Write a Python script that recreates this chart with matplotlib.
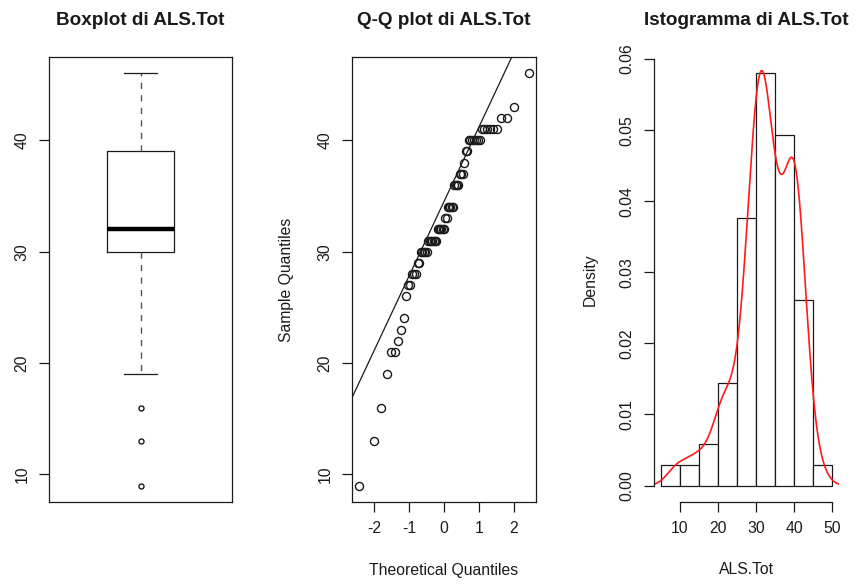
import numpy as np
import matplotlib
matplotlib.use("Agg")
import matplotlib.pyplot as plt
from statistics import NormalDist

# ALS.Tot scores: distinct values and how often each occurs
score_levels = [9, 13, 16, 19, 21, 22, 23, 24, 26, 27, 28, 29, 30, 31, 32, 33,
                34, 36, 37, 38, 39, 40, 41, 42, 43, 46]
score_counts = [1, 1, 1, 1, 2, 1, 1, 1, 1, 2, 3, 2, 5, 7, 6, 2,
                5, 4, 3, 1, 2, 7, 6, 2, 1, 1]
hist_breaks = [5, 10, 15, 20, 25, 30, 35, 40, 45, 50]

box_yticks = [10, 20, 30, 40]
qq_xticks = [-2, -1, 0, 1, 2]
hist_yticks = [0.00, 0.01, 0.02, 0.03, 0.04, 0.05, 0.06]
hist_xticks = [10, 20, 30, 40, 50]

plt.rcParams['font.family'] = ['Liberation Sans', 'DejaVu Sans']
LABEL_SIZE = 11.3
TITLE_SIZE = 13.6
INK = '#1a1a1a'

x = np.sort(np.repeat(score_levels, score_counts)).astype(float)
n = len(x)

W, H = 856, 585
fig = plt.figure(figsize=(W / 100, H / 100), dpi=100)


def panel(left, right, top=57, bottom=502):
    # axes placed by pixel edges, like par(mfrow=c(1,3)) in R
    return fig.add_axes([left / W, (H - bottom) / H, (right - left) / W, (bottom - top) / H])


def r_style(ax):
    ax.tick_params(direction='out', length=7, width=0.9, colors=INK,
                   labelsize=LABEL_SIZE, pad=7)
    ax.tick_params(axis='y', labelrotation=90)
    for lab in ax.get_yticklabels():
        lab.set_va('center')
    for sp in ax.spines.values():
        sp.set_color(INK)
        sp.set_linewidth(0.9)


def title(ax, text):
    ax.text(0.5, 1 + 32 / 445, text, transform=ax.transAxes, ha='center',
            va='baseline', fontsize=TITLE_SIZE, fontweight='bold', color=INK)


def pad_range(lo, hi):
    d = (hi - lo) * 0.04
    return lo - d, hi + d


# ---- Boxplot ----
ax1 = panel(49, 232)
ax1.boxplot(x, positions=[1], widths=0.4, whis=1.5,
            boxprops=dict(color=INK, linewidth=0.9),
            medianprops=dict(color='black', linewidth=3.2, solid_capstyle='butt'),
            whiskerprops=dict(color='#555555', linewidth=1.0, linestyle=(0, (4.5, 4.5))),
            capprops=dict(color=INK, linewidth=0.9),
            flierprops=dict(marker='o', markersize=3.6, markerfacecolor='none',
                            markeredgecolor=INK, markeredgewidth=1.0))
ax1.set_xlim(0.46, 1.54)
ax1.set_ylim(*pad_range(x.min(), x.max()))
ax1.set_xticks([])
ax1.set_yticks(box_yticks)
r_style(ax1)
title(ax1, 'Boxplot di ALS.Tot')

# ---- Normal Q-Q plot ----
ax2 = panel(352, 536)
probs = (np.arange(1, n + 1) - 0.5) / n
theo = np.array([NormalDist().inv_cdf(p) for p in probs])
ax2.plot(theo, x, linestyle='none', marker='o', markersize=5.8,
         markerfacecolor='none', markeredgecolor=INK, markeredgewidth=1.0)
# qqline through the first and third quartiles
q1, q3 = np.percentile(x, [25, 75])
z1, z3 = NormalDist().inv_cdf(0.25), NormalDist().inv_cdf(0.75)
slope = (q3 - q1) / (z3 - z1)
intercept = q1 - slope * z1
xl = pad_range(theo.min(), theo.max())
ax2.plot(xl, [intercept + slope * v for v in xl], color=INK, linewidth=0.9)
ax2.set_xlim(*xl)
ax2.set_ylim(*pad_range(x.min(), x.max()))
ax2.set_xticks(qq_xticks)
ax2.set_xticklabels([str(t) for t in qq_xticks])
ax2.set_yticks(box_yticks)
r_style(ax2)
title(ax2, 'Q-Q plot di ALS.Tot')
ax2.text(0.5, -68 / 445, 'Theoretical Quantiles', transform=ax2.transAxes,
         ha='center', va='center', fontsize=LABEL_SIZE, color=INK)
ax2.text(-65 / 184, 0.5, 'Sample Quantiles', transform=ax2.transAxes, rotation=90,
         ha='center', va='center', fontsize=LABEL_SIZE, color=INK)

# ---- Histogram with kernel density ----
ax3 = panel(654, 839)
breaks = np.array(hist_breaks, dtype=float)
# right-closed bins, as R's hist() does
idx = np.searchsorted(breaks, x, side='left')
idx[idx == 0] = 1
counts = np.bincount(idx - 1, minlength=len(breaks) - 1)
dens = counts / (n * np.diff(breaks))
ax3.bar(breaks[:-1], dens, width=np.diff(breaks), align='edge',
        facecolor='white', edgecolor=INK, linewidth=0.9)

# gaussian KDE with R's bw.nrd0 bandwidth
iqr = q3 - q1
bw = 0.9 * min(x.std(ddof=1), iqr / 1.34) * n ** -0.2
grid = np.linspace(x.min() - 3 * bw, x.max() + 3 * bw, 512)
kde = np.exp(-0.5 * ((grid[:, None] - x[None, :]) / bw) ** 2).sum(axis=1) / (n * bw * np.sqrt(2 * np.pi))
ax3.plot(grid, kde, color='#ff1a1a', linewidth=1.2)

ax3.set_xlim(*pad_range(breaks[0], breaks[-1]))
ax3.set_ylim(*pad_range(0, dens.max()))
ax3.set_xticks(hist_xticks)
ax3.set_yticks(hist_yticks)
ax3.set_yticklabels(['%.2f' % t for t in hist_yticks])
ax3.spines['top'].set_visible(False)
ax3.spines['right'].set_visible(False)
r_style(ax3)
ax3.spines['left'].set_bounds(hist_yticks[0], hist_yticks[-1])
ax3.spines['bottom'].set_bounds(hist_xticks[0], hist_xticks[-1])
title(ax3, 'Istogramma di ALS.Tot')
ax3.text(0.5, -68 / 445, 'ALS.Tot', transform=ax3.transAxes,
         ha='center', va='center', fontsize=LABEL_SIZE, color=INK)
ax3.text(-64 / 185, 0.5, 'Density', transform=ax3.transAxes, rotation=90,
         ha='center', va='center', fontsize=LABEL_SIZE, color=INK)

fig.savefig('out.png', dpi=100)
